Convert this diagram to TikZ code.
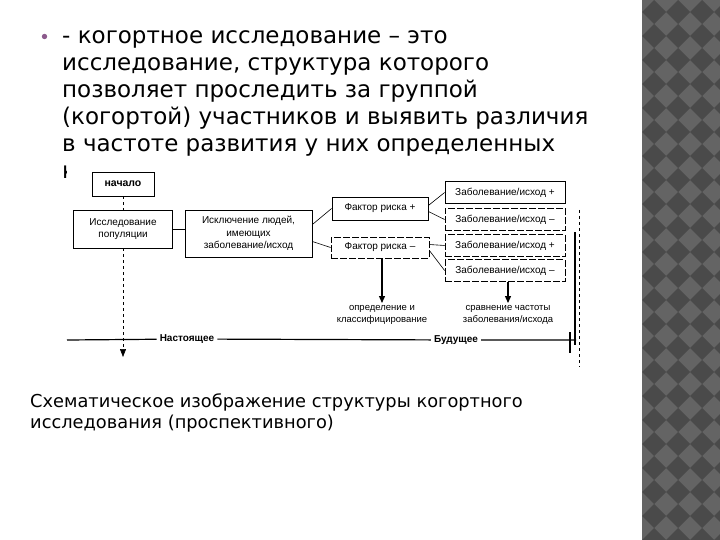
\documentclass[tikz,border=0pt]{standalone}
\usepackage{fontspec}
\setmainfont{DejaVu Sans}
\newfontfamily\schemefont{Liberation Sans}
\usetikzlibrary{arrows.meta}
\definecolor{bulletpurple}{RGB}{140,90,140}
\definecolor{paneldark}{RGB}{74,74,74}
\definecolor{panellight}{RGB}{100,100,100}
\begin{document}
\begin{tikzpicture}[x=1pt,y=-1pt,
    box/.style={draw, line width=0.8pt, inner sep=1pt, align=center,
      font=\schemefont\fontsize{10}{12.5}\selectfont},
    dbox/.style={box, dash pattern=on 7pt off 2pt},
    link/.style={line width=0.6pt},
    arr/.style={line width=1.3pt, -{Triangle[width=6pt,length=7pt]}},
    note/.style={inner sep=2pt, align=center,
      font=\schemefont\fontsize{9.5}{12.5}\selectfont}]
  \useasboundingbox (0,0) rectangle (720,540);
  % decorative side panel
  \begin{scope}
    \clip (642,0) rectangle (720,540);
    \fill[panellight] (642,0) rectangle (720,540);
    \foreach \i in {0,...,3}
      \foreach \j in {0,...,22}
        \fill[paneldark] (654+24*\i,12+24*\j) +(-12,0) -- +(0,-12) -- +(12,0) -- +(0,12) -- cycle;
  \end{scope}
  % bullet text
  \fill[bulletpurple] (44.5,36.5) circle (2.7);
  \foreach \txt [count=\i] in {- когортное исследование – это,
      {исследование, структура которого},
      позволяет проследить за группой,
      (когортой) участников и выявить различия,
      в частоте развития у них определенных,
      к}
    \node[anchor=base west, inner sep=0, font=\fontsize{23}{27}\selectfont]
      (line\i) at (62,17+27*\i) {\txt};
  % scheme
  \fill[white] (67,164) rectangle (590,370);
  \node[box, font=\schemefont\bfseries\fontsize{10.5}{12}\selectfont,
    minimum width=62, minimum height=24] (start) at (123,184) {начало};
  \node[box, minimum width=99, minimum height=38] (pop) at (123,229)
    {Исследование\\популяции};
  \node[box, minimum width=127, minimum height=47] (excl) at (248.5,233.5)
    {Исключение людей,\\имеющих\\заболевание/исход};
  \node[box, minimum width=96, minimum height=23] (fplus) at (380,208.5)
    {Фактор риска +};
  \node[dbox, minimum width=98, minimum height=21] (fminus) at (380,247.5)
    {Фактор риска –};
  \node[box, minimum width=120, minimum height=22] (o1) at (505,192.5)
    {Заболевание/исход +};
  \node[dbox, minimum width=120, minimum height=22] (o2) at (505,219.5)
    {Заболевание/исход –};
  \node[dbox, minimum width=120, minimum height=22] (o3) at (505,245.5)
    {Заболевание/исход +};
  \node[dbox, minimum width=120, minimum height=22] (o4) at (505,270.5)
    {Заболевание/исход –};
  \node[note, anchor=north] (detect) at (382,303)
    {определение и\\классифицирование};
  \node[note, anchor=north] (compare) at (508,303)
    {сравнение частоты\\заболевания/исхода};
  \draw[link, dashed] (start) -- (pop);
  \coordinate (popend) at (123,357);
  \draw[link, dashed, -{Triangle[width=6pt,length=8pt]}] (pop) -- (popend);
  \draw[link] (pop.east) -- (pop.east -| excl.west);
  \draw[link] ([yshift=9pt]excl.east) -- (fplus.west);
  \draw[link] ([yshift=-8pt]excl.east) -- (fminus.west);
  \draw[link] ([yshift=3pt]fplus.east) -- (o1.west);
  \draw[link] ([yshift=-3pt]fplus.east) -- (o2.west);
  \draw[link] ([yshift=3pt]fminus.east) -- (o3.west);
  \draw[link] ([yshift=-3pt]fminus.east) -- (o4.west);
  \draw[arr] (fminus.south -| detect.north) -- (detect.north);
  \draw[arr] (o4.south -| compare.north) -- (compare.north);
  % time axis
  \coordinate (tlstart) at (67,340);
  \coordinate (tlend) at (576,340);
  \node[inner sep=3pt, font=\schemefont\bfseries\fontsize{10}{12}\selectfont]
    (now) at (187,339) {Настоящее};
  \node[inner sep=3pt, font=\schemefont\bfseries\fontsize{10}{12}\selectfont]
    (fut) at (456,340) {Будущее};
  \draw[line width=1.2pt] (tlstart) -- (now) -- (fut) -- (tlend);
  \draw[line width=1.2pt] (570,332) -- (570,353);
  \draw[line width=1.5pt] (575,232) -- (575,345);
  \draw[line width=0.6pt, dashed] (579,210) -- (579,367);
  % caption
  \node[anchor=base west, inner sep=0, font=\fontsize{17.8}{21}\selectfont]
    (cap1) at (30,407) {Схематическое изображение структуры когортного};
  \node[anchor=base west, inner sep=0, font=\fontsize{17.8}{21}\selectfont]
    (cap2) at (30,428) {исследования (проспективного)};
\end{tikzpicture}
\end{document}
